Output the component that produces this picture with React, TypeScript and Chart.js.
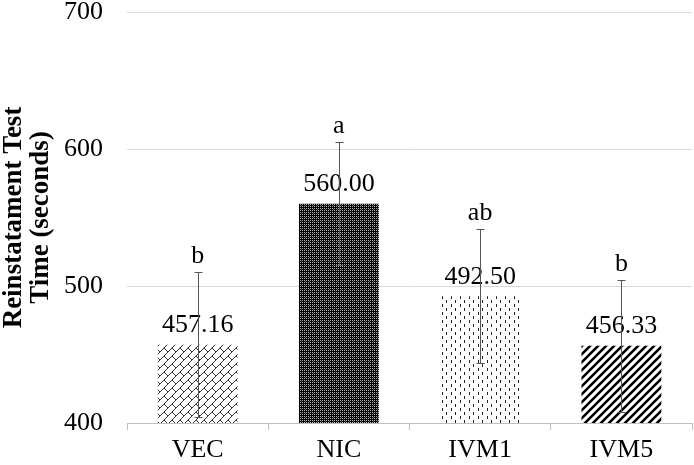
import React, { useEffect, useRef } from "react";
import { Chart, registerables } from "chart.js";

Chart.register(...registerables);

const categories = ["VEC", "NIC", "IVM1", "IVM5"];
const means = [457.16, 560.0, 492.5, 456.33];
const errors = [53, 45, 49, 48];
const valueLabels = ["457.16", "560.00", "492.50", "456.33"];
const letters = ["b", "a", "ab", "b"];
const yMin = 400;
const yMax = 700;
const yStep = 100;
const yTitle = ["Reinstatament Test", "Time (seconds)"];

const FONT = '"Liberation Serif", "Times New Roman", serif';

function makePattern(kind: string): CanvasPattern | string {
  const c = document.createElement("canvas");
  const ctx = c.getContext("2d");
  if (!ctx) return "#888";
  if (kind === "brick") {
    c.width = 8;
    c.height = 8;
    ctx.fillStyle = "#fff";
    ctx.fillRect(0, 0, 8, 8);
    ctx.fillStyle = "#333";
    for (let i = 0; i < 8; i++) ctx.fillRect(i, 7 - i, 1, 1);
    for (let i = 0; i < 4; i++) ctx.fillRect(4 + i, 4 + i, 1, 1);
  } else if (kind === "dots") {
    c.width = 4;
    c.height = 4;
    ctx.fillStyle = "#000";
    ctx.fillRect(0, 0, 4, 4);
    ctx.fillStyle = "#b0b0b0";
    ctx.fillRect(0, 0, 1, 1);
    ctx.fillRect(2, 0, 1, 1);
    ctx.fillRect(0, 2, 1, 1);
    ctx.fillRect(2, 2, 1, 1);
    ctx.fillStyle = "#555";
    ctx.fillRect(1, 1, 1, 1);
  } else if (kind === "dashes") {
    c.width = 9;
    c.height = 8;
    ctx.fillStyle = "#fff";
    ctx.fillRect(0, 0, 9, 8);
    ctx.fillStyle = "#222";
    ctx.fillRect(1, 0, 1, 3);
    ctx.fillRect(5, 4, 1, 3);
  } else {
    c.width = 8;
    c.height = 8;
    ctx.fillStyle = "#fff";
    ctx.fillRect(0, 0, 8, 8);
    ctx.strokeStyle = "#000";
    ctx.lineWidth = 2.6;
    ctx.beginPath();
    ctx.moveTo(-2, 10);
    ctx.lineTo(10, -2);
    ctx.moveTo(-6, 6);
    ctx.lineTo(6, -6);
    ctx.moveTo(2, 14);
    ctx.lineTo(14, 2);
    ctx.stroke();
  }
  const p = ctx.createPattern(c, "repeat");
  return p || "#888";
}

const annotPlugin = {
  id: "annot",
  afterDatasetsDraw(chart: any) {
    const { ctx, scales } = chart;
    const y = scales.y;
    const meta = chart.getDatasetMeta(0);
    meta.data.forEach((bar: any, i: number) => {
      const x = Math.round(bar.x) + 0.5;
      const top = y.getPixelForValue(means[i]);
      const hi = Math.round(y.getPixelForValue(means[i] + errors[i])) + 0.5;
      const lo = Math.round(y.getPixelForValue(means[i] - errors[i])) + 0.5;
      ctx.save();
      ctx.font = `26px ${FONT}`;
      ctx.fillStyle = "#000";
      ctx.textAlign = "center";
      ctx.textBaseline = "alphabetic";
      ctx.fillText(valueLabels[i], bar.x, top - 12.5);
      ctx.fillText(letters[i], bar.x, hi - 9.5);
      ctx.strokeStyle = "#555";
      ctx.lineWidth = 1;
      ctx.beginPath();
      ctx.moveTo(x, hi);
      ctx.lineTo(x, lo);
      ctx.moveTo(x - 4, hi);
      ctx.lineTo(x + 4, hi);
      ctx.moveTo(x - 4, lo);
      ctx.lineTo(x + 4, lo);
      ctx.stroke();
      ctx.restore();
    });
  },
};

export default function App() {
  const ref = useRef<HTMLCanvasElement | null>(null);
  useEffect(() => {
    if (!ref.current) return;
    const fills = [
      makePattern("brick"),
      makePattern("dots"),
      makePattern("dashes"),
      makePattern("diag"),
    ];
    const chart = new Chart(ref.current, {
      type: "bar",
      data: {
        labels: categories,
        datasets: [
          {
            data: means,
            backgroundColor: fills as any,
            borderWidth: 0,
            categoryPercentage: 1,
            barPercentage: 0.565,
          },
        ],
      },
      options: {
        animation: false,
        responsive: false,
        layout: { padding: { top: 12, right: 2, left: 0, bottom: 0 } },
        plugins: {
          legend: { display: false },
          tooltip: { enabled: false },
        },
        scales: {
          x: {
            grid: {
              display: true,
              drawOnChartArea: false,
              drawTicks: true,
              tickLength: 7,
              color: "#bfbfbf",
              offset: true,
            },
            border: { color: "#bfbfbf" },
            ticks: {
              color: "#000",
              padding: 7,
              font: { family: FONT, size: 26, lineHeight: 1 },
            },
            afterFit(s: any) {
              s.height = 42;
              s.paddingLeft = 0;
              s.paddingRight = 0;
            },
          },
          y: {
            min: yMin,
            max: yMax,
            ticks: {
              stepSize: yStep,
              color: "#000",
              padding: 24,
              font: { family: FONT, size: 26, lineHeight: 0.9 },
            },
            grid: { color: "#d9d9d9", drawTicks: false },
            border: { display: false },
            title: {
              display: true,
              text: yTitle,
              color: "#000",
              font: { family: FONT, size: 27, weight: "bold", lineHeight: 1 },
              padding: { top: 0.5, bottom: 0 },
            },
            afterFit(s: any) {
              s.width = 127;
              s.paddingTop = 0;
              s.paddingBottom = 0;
            },
          },
        },
      },
      plugins: [annotPlugin],
    });
    return () => chart.destroy();
  }, []);
  return (
    <div style={{ position: "absolute", left: 0, top: 0, width: 694, height: 465, background: "#fff" }}>
      <canvas ref={ref} width={694} height={465} />
    </div>
  );
}
